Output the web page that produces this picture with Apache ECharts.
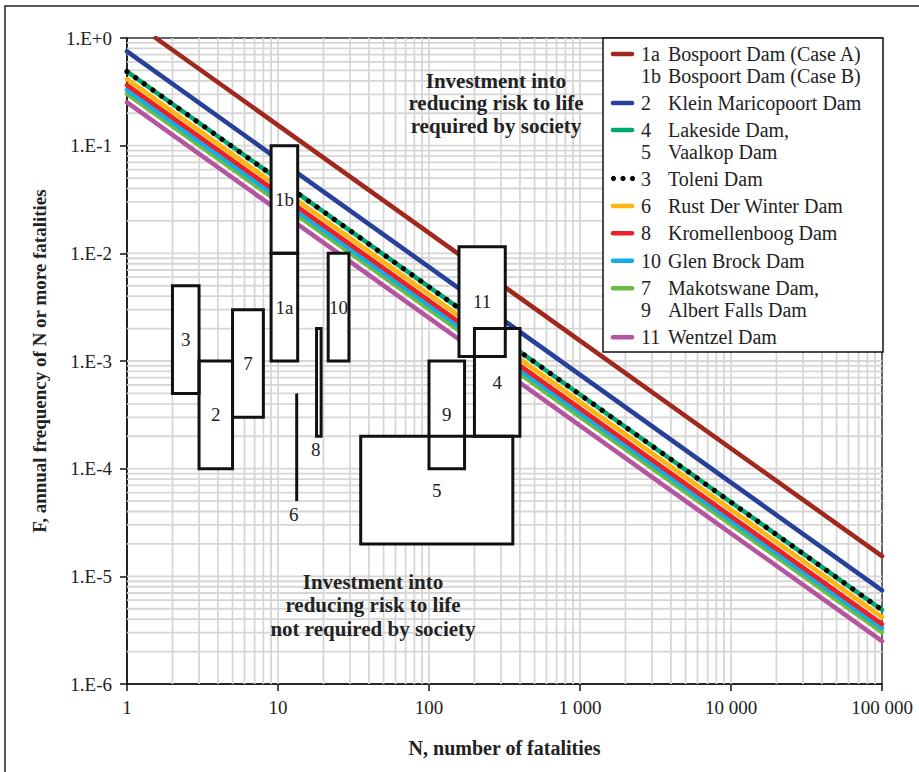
<!DOCTYPE html>
<html><head><meta charset="utf-8">
<script src="https://cdn.jsdelivr.net/npm/echarts@6/dist/echarts.min.js"></script>
<style>html,body{margin:0;padding:0;background:#fff}#c{width:919px;height:772px}</style>
</head><body><div id="c"></div>
<script>
// ---------------- DATA ----------------
const xTickLabels = ['1', '10', '100', '1 000', '10 000', '100 000'];
const yTickLabels = ['1.E-6', '1.E-5', '1.E-4', '1.E-3', '1.E-2', '1.E-1', '1.E+0'];

// F-N criterion lines (drawn bottom to top)
const lineNames  = ['Bospoort Dam', 'Klein Maricopoort Dam', 'Wentzel Dam', 'Makotswane / Albert Falls Dam',
                    'Glen Brock Dam', 'Kromellenboog Dam', 'Rust Der Winter Dam', 'Lakeside / Vaalkop Dam', 'Toleni Dam'];
const lineNStart = [1.55, 1, 1, 1, 1, 1, 1, 1, 1];
const lineFStart = [1, 0.75, 0.252, 0.303, 0.33, 0.365, 0.415, 0.488, 0.488];
const lineNEnd   = [100000, 100000, 100000, 100000, 100000, 100000, 100000, 100000, 100000];
const lineFEnd   = [1.54e-5, 7.4e-6, 2.5e-6, 3.04e-6, 3.3e-6, 3.6e-6, 4.17e-6, 4.88e-6, 4.88e-6];

// dam risk boxes
const boxLabels = ['3', '2', '7', '1a', '1b', '6', '8', '10', '11', '4', '9', '5'];
const boxNMin   = [2, 3, 5, 9, 9, 13.3, 18, 21.5, 158, 200, 100, 35.3];
const boxNMax   = [3, 5, 8, 13.5, 13.5, 13.3, 19.3, 29.5, 320, 400, 172, 359];
const boxFMin   = [5e-4, 1e-4, 3e-4, 1e-3, 1e-2, 5e-5, 2e-4, 1e-3, 1.1e-3, 2e-4, 1e-4, 2e-5];
const boxFMax   = [5e-3, 1e-3, 3e-3, 1e-2, 1e-1, 5e-4, 2e-3, 1e-2, 1.15e-2, 2e-3, 1e-3, 2e-4];

// legend entries
const legendNums  = ['1a', '1b', '2', '4', '5', '3', '6', '8', '10', '7', '9', '11'];
const legendNames = ['Bospoort Dam (Case A)', 'Bospoort Dam (Case B)', 'Klein Maricopoort Dam', 'Lakeside Dam,',
                     'Vaalkop Dam', 'Toleni Dam', 'Rust Der Winter Dam', 'Kromellenboog Dam', 'Glen Brock Dam',
                     'Makotswane Dam,', 'Albert Falls Dam', 'Wentzel Dam'];
const legendLine  = [0, -1, 1, 7, -1, 8, 6, 5, 4, 3, -1, 2];   // index into lines, -1 = continuation

const noteUpper = ['Investment into', 'reducing risk to life', 'required by society'];
const noteLower = ['Investment into', 'reducing risk to life', 'not required by society'];

// ---------------- STYLE / LAYOUT ----------------
const lineColors = ['#a0281c', '#27409a', '#b5549f', '#6cbb46', '#13aee9', '#ec2027', '#fdb614', '#00a86e', '#000000'];
const SERIF = '"Liberation Serif", "DejaVu Serif", serif';
const labelBelow = {'6': true, '8': true};
const legendRowY = [54, 75.5, 103, 130, 151.7, 178.5, 206, 233.3, 260.7, 288.3, 309.5, 337.3];
const GRID = {left: 127, right: 37, top: 38, bottom: 88};

// gridline values (1..9 x decades)
const gridX = [], gridY = [];
for (let k = 0; k <= 4; k++) for (let m = 1; m <= 9; m++) { const v = m * Math.pow(10, k); if (v > 1) gridX.push([v, 1e-3, 0]); }
for (let k = -6; k <= -1; k++) for (let m = 1; m <= 9; m++) { const v = m * Math.pow(10, k); if (v > 1e-6 * 1.0001) gridY.push([10, v, 1]); }

const chart = echarts.init(document.getElementById('c'), null, {renderer: 'svg'});

function gridRender(params, api) {
  const flag = api.value(2);
  let p1, p2;
  if (flag === 0) { p1 = api.coord([api.value(0), 1e-6]); p2 = api.coord([api.value(0), 1]); }
  else { p1 = api.coord([1, api.value(1)]); p2 = api.coord([100000, api.value(1)]); }
  return {type: 'line', shape: {x1: p1[0], y1: p1[1], x2: p2[0], y2: p2[1]},
          style: {stroke: '#d6d6d6', lineWidth: 1.8}};
}

function boxRender(mode) {
  return function (params, api) {
    const p1 = api.coord([api.value(0), api.value(1)]);
    const p2 = api.coord([api.value(2), api.value(3)]);
    const x = Math.min(p1[0], p2[0]), y = Math.min(p1[1], p2[1]);
    const w = Math.abs(p2[0] - p1[0]), h = Math.abs(p2[1] - p1[1]);
    if (mode === 'fill') {
      return {type: 'rect', shape: {x: x, y: y, width: w, height: h}, style: {fill: '#fff'}};
    }
    const lbl = boxLabels[api.value(4)];
    const children = [];
    if (w < 0.5) children.push({type: 'line', shape: {x1: x, y1: y, x2: x, y2: y + h}, style: {stroke: '#111', lineWidth: 3}});
    else children.push({type: 'rect', shape: {x: x, y: y, width: w, height: h}, style: {fill: 'none', stroke: '#111', lineWidth: 3}});
    const below = labelBelow[lbl];
    children.push({type: 'text', x: below ? x + w / 2 - 3 : x + w / 2, y: below ? y + h + 13 : y + h / 2,
      style: {text: lbl, fill: '#222', font: '19px ' + SERIF, align: 'center', verticalAlign: 'middle'}});
    return {type: 'group', children: children};
  };
}

const boxData = boxLabels.map((l, i) => [boxNMin[i], boxFMin[i], boxNMax[i], boxFMax[i], i]);

const series = [
  {type: 'custom', name: 'grid', renderItem: gridRender, data: gridX.concat(gridY), encode: {x: 0, y: 1},
   silent: true, clip: false, z: 1}
];
lineNames.forEach((n, i) => {
  const dotted = i === lineNames.length - 1;
  series.push({
    type: 'line', name: n, data: [[lineNStart[i], lineFStart[i]], [lineNEnd[i], lineFEnd[i]]],
    showSymbol: false, symbol: 'none', silent: true, z: 2 + i * 0.01,
    lineStyle: dotted ? {color: '#000', width: 5.2, type: [0.01, 10.6], cap: 'round'}
                      : {color: lineColors[i], width: 4.6, cap: 'round'}
  });
});
series.push({type: 'custom', name: 'boxFill', renderItem: boxRender('fill'), data: boxData,
             encode: {x: [0, 2], y: [1, 3]}, clip: false, silent: true, z: 5});
series.push({type: 'custom', name: 'boxLine', renderItem: boxRender('line'), data: boxData,
             encode: {x: [0, 2], y: [1, 3]}, clip: false, silent: true, z: 6});

// legend graphic
const LZ = 50;
const legendElems = [{type: 'rect', z: LZ, shape: {x: 603, y: 38, width: 280, height: 314},
  style: {fill: '#fff', stroke: '#111', lineWidth: 1.5}}];
legendNums.forEach((num, r) => {
  const yy = legendRowY[r];
  const li = legendLine[r];
  if (li === lineNames.length - 1) {
    [613.5, 623, 632.5].forEach(cx => legendElems.push({type: 'circle', z: LZ + 1, shape: {cx: cx, cy: yy, r: 2.6}, style: {fill: '#000'}}));
  } else if (li >= 0) {
    legendElems.push({type: 'line', z: LZ + 1, shape: {x1: 613, y1: yy, x2: 632, y2: yy},
      style: {stroke: lineColors[li], lineWidth: 4.6, lineCap: 'round'}});
  }
  legendElems.push({type: 'text', z: LZ + 1, x: 641, y: yy, style: {text: num, fill: '#222', font: '20px ' + SERIF, verticalAlign: 'middle'}});
  legendElems.push({type: 'text', z: LZ + 1, x: 668, y: yy, style: {text: legendNames[r], fill: '#222', font: '20px ' + SERIF, verticalAlign: 'middle'}});
});

chart.setOption({
  animation: false,
  backgroundColor: '#fff',
  grid: Object.assign({show: true, borderColor: '#333', borderWidth: 1.5, backgroundColor: 'transparent'}, GRID),
  xAxis: {
    type: 'log', logBase: 10, min: 1, max: 100000,
    name: 'N, number of fatalities', nameLocation: 'middle', nameGap: 54,
    nameTextStyle: {fontFamily: SERIF, fontWeight: 'bold', fontSize: 20, color: '#222'},
    axisLine: {lineStyle: {color: '#111', width: 1.5}},
    axisTick: {show: true, inside: false, length: 7, lineStyle: {color: '#111', width: 1.5}},
    axisLabel: {fontFamily: SERIF, fontSize: 19, color: '#222', margin: 14,
      formatter: v => xTickLabels[Math.round(Math.log10(v))]},
    splitLine: {show: false}, minorTick: {show: false}, minorSplitLine: {show: false}
  },
  yAxis: {
    type: 'log', logBase: 10, min: 1e-6, max: 1,
    name: 'F, annual frequency of N or more fatalities', nameLocation: 'middle', nameGap: 78,
    nameTextStyle: {fontFamily: SERIF, fontWeight: 'bold', fontSize: 19, color: '#222'},
    axisLine: {lineStyle: {color: '#111', width: 1.5}},
    axisTick: {show: true, inside: false, length: 7, lineStyle: {color: '#111', width: 1.5}},
    axisLabel: {fontFamily: SERIF, fontSize: 19, color: '#222', margin: 15,
      formatter: v => yTickLabels[Math.round(Math.log10(v)) + 6]},
    splitLine: {show: false}, minorTick: {show: false}, minorSplitLine: {show: false}
  },
  graphic: [
    {type: 'rect', shape: {x: 5, y: 6, width: 930, height: 790}, style: {fill: 'none', stroke: '#222', lineWidth: 1.5}, z: 100},
    {type: 'text', x: 496, y: 103, z: 40, style: {text: noteUpper.join('\n'), font: 'bold 21px ' + SERIF, fill: '#222',
      align: 'center', verticalAlign: 'middle', lineHeight: 22.5}},
    {type: 'text', x: 373, y: 605, z: 40, style: {text: noteLower.join('\n'), font: 'bold 21px ' + SERIF, fill: '#222',
      align: 'center', verticalAlign: 'middle', lineHeight: 23.5}}
  ].concat(legendElems),
  series: series
});
</script></body></html>
